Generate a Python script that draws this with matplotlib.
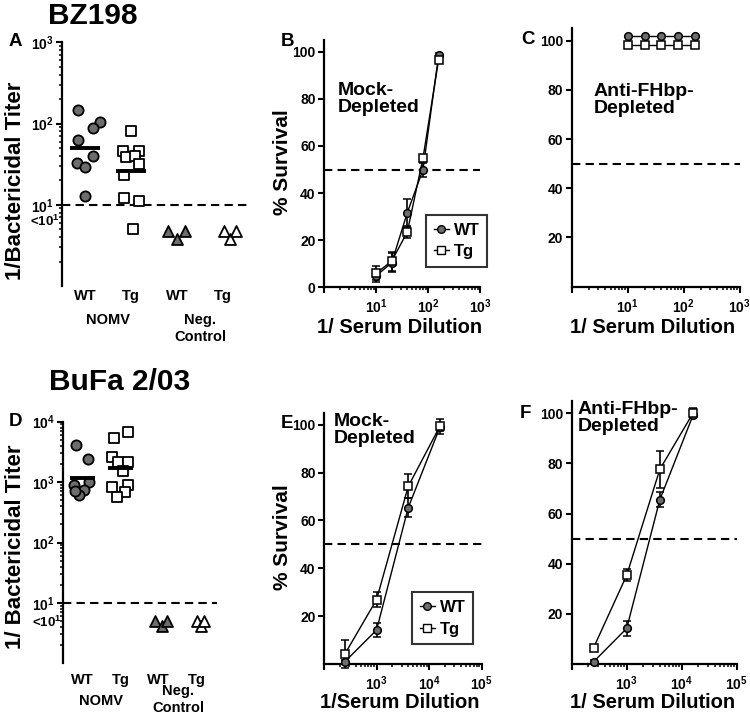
"""Bactericidal titers and survival curves (BZ198 / BuFa 2/03)."""

import matplotlib

matplotlib.use("Agg")
import matplotlib.pyplot as plt  # drawing
import numpy as np
from matplotlib.lines import Line2D
from matplotlib.ticker import FixedLocator, LogLocator, NullFormatter

plt.rcParams["font.family"] = ["Liberation Sans", "DejaVu Sans"]
plt.rcParams["font.weight"] = "bold"
plt.rcParams["mathtext.fontset"] = "custom"
plt.rcParams["mathtext.rm"] = "Liberation Sans:bold"
plt.rcParams["mathtext.it"] = "Liberation Sans:bold"
plt.rcParams["mathtext.bf"] = "Liberation Sans:bold"

# ---- data: BZ198 titers (panel A) ----
bz_nomv_wt = [147, 105, 89, 63, 40, 33, 29, 13]
bz_nomv_tg = [81, 46, 46, 39, 40, 32, 23, 12, 11, 5]
bz_neg_wt = [4.8, 3.8, 4.8]
bz_neg_tg = [4.8, 3.8, 4.8]

# ---- data: BuFa 2/03 titers (panel D) ----
bufa_nomv_wt = [4140, 2400, 900, 1020, 750, 600, 700]
bufa_nomv_tg = [6700, 5460, 2630, 2180, 2180, 1540, 845, 900, 675, 565]
bufa_neg_wt = [5.0, 4.1, 5.0]
bufa_neg_tg = [5.0, 4.1, 5.0]

group_labels = ["WT", "Tg", "WT", "Tg"]

# ---- data: BZ198 survival (panels B, C) ----
bz_dilution = [10, 20, 40, 80, 160]
bz_mock_wt = [4.8, 10.4, 31.7, 49.9, 98.5]
bz_mock_wt_err = [2.5, 4.0, 6.0, 3.0, 1.0]
bz_mock_tg = [5.9, 11.1, 23.5, 54.8, 96.6]
bz_mock_tg_err = [3.0, 4.0, 2.5, 1.5, 1.5]
bz_depl_wt = [101.7, 101.7, 101.7, 101.7, 101.7]
bz_depl_tg = [98.2, 98.2, 98.2, 98.2, 98.2]

# ---- data: BuFa 2/03 survival (panels E, F) ----
bufa_dilution = [250, 1000, 4000, 16000]
bufa_mock_wt = [1.0, 14.2, 65.3, 98.9]
bufa_mock_wt_err = [0.8, 3.0, 4.0, 1.5]
bufa_mock_tg = [4.2, 26.9, 74.2, 99.3]
bufa_mock_tg_err = [6.0, 3.0, 5.0, 3.0]
bufa_depl_wt = [0.9, 14.2, 65.5, 99.1]
bufa_depl_wt_err = [0.5, 3.0, 3.0, 1.0]
bufa_depl_tg = [6.5, 35.4, 77.6, 100.0]
bufa_depl_tg_err = [0.5, 2.3, 7.3, 2.0]

# ---- layout (scatter jitter, pixel boxes) ----
FIG_W, FIG_H = 750, 723
GRAY = "#6d6d6d"
bz_jit = [
    [-0.17, 0.32, 0.16, -0.17, 0.17, -0.19, 0.0, 0.0],
    [0.0, -0.17, 0.16, -0.11, 0.08, 0.16, -0.16, -0.16, 0.16, 0.04],
    [-0.19, 0.0, 0.18],
    [0.03, 0.16, 0.28],
]
bufa_jit = [
    [-0.17, 0.16, -0.21, 0.18, 0.05, -0.08, -0.2],
    [0.19, -0.16, -0.21, -0.07, 0.19, 0.07, -0.21, 0.19, 0.12, -0.1],
    [-0.1, 0.08, 0.21],
    [0.0, 0.1, 0.19],
]


def px_axes(fig, left, top, right, bottom):
    """ピクセル座標で軸を作成."""
    return fig.add_axes(
        [left / FIG_W, 1 - bottom / FIG_H, (right - left) / FIG_W, (bottom - top) / FIG_H]
    )


def fig_text(fig, x, y, s, **kw):
    """ピクセル座標で文字を配置."""
    kw.setdefault("ha", "center")
    kw.setdefault("va", "center")
    fig.text(x / FIG_W, 1 - y / FIG_H, s, **kw)


def style_axes(ax):
    ax.spines["top"].set_visible(False)
    ax.spines["right"].set_visible(False)
    for s in ("left", "bottom"):
        ax.spines[s].set_linewidth(1.6)
    ax.tick_params(which="major", direction="out", length=4.5, width=1.5, labelsize=10, pad=1.5)
    ax.tick_params(which="minor", direction="out", length=2.5, width=1.1)
    ax.tick_params(axis="x", which="major", pad=3)


def plot_titer(ax, groups, jitter, ylim, yticks, yticklabels, below_y, offsets):
    """列散布図（幾何平均線つき）."""
    style_axes(ax)
    ax.spines["bottom"].set_visible(False)
    markers = [("o", GRAY), ("s", "white"), ("^", GRAY), ("^", "white")]
    for i, (vals, jit) in enumerate(zip(groups, jitter)):
        x0 = i + 1
        m, fc = markers[i]
        size = 62 if m == "^" else 54
        ax.scatter(
            x0 + np.array(jit), vals, marker=m, s=size, facecolor=fc,
            edgecolor="black", linewidth=1.3, zorder=3, clip_on=False,
        )
        if i < 2:
            gmean = np.exp(np.mean(np.log(vals)))
            ax.hlines(gmean, x0 - 0.33, x0 + 0.33, color="black", lw=2.8, zorder=4)
    ax.axhline(10, color="black", lw=1.5, ls=(0, (4, 2.5)), zorder=2)
    ax.set_yscale("log")
    ax.set_ylim(*ylim)
    ax.set_xlim(0.49, 4.55)
    ax.yaxis.set_major_locator(FixedLocator(yticks))
    ax.set_yticklabels(yticklabels)
    ax.yaxis.set_minor_locator(LogLocator(base=10, subs=np.arange(2, 10), numticks=20))
    ax.yaxis.set_minor_formatter(NullFormatter())
    ax.set_xticks([])
    # label for values below detection, without a tick
    ax.annotate(r"<$10^{1}$", xy=(0, below_y), xycoords=("axes fraction", "data"),
                xytext=(-2, 0), textcoords="offset pixels",
                ha="right", va="center", fontsize=9.5)
    tick_off, group_off, neg_off, ctrl_off = offsets
    for i, lab in enumerate(group_labels):
        ax.annotate(lab, xy=(i + 1, 0), xycoords=("data", "axes fraction"),
                    xytext=(0, -tick_off), textcoords="offset pixels",
                    ha="center", va="center", fontsize=10.5)
    ax.annotate("NOMV", xy=(1.5, 0), xycoords=("data", "axes fraction"),
                xytext=(0, -group_off), textcoords="offset pixels",
                ha="center", va="center", fontsize=10.5)
    ax.annotate("Neg.", xy=(3.5, 0), xycoords=("data", "axes fraction"),
                xytext=(0, -neg_off), textcoords="offset pixels",
                ha="center", va="center", fontsize=10.5)
    ax.annotate("Control", xy=(3.5, 0), xycoords=("data", "axes fraction"),
                xytext=(0, -ctrl_off), textcoords="offset pixels",
                ha="center", va="center", fontsize=10.5)


def plot_survival(ax, x, series, xlim, xticklabels, yticks, yticklabels):
    """生存率曲線."""
    style_axes(ax)
    for y, err, m, fc in series:
        ax.errorbar(
            x, y, yerr=err, marker=m, ms=5.5, mfc=fc, mec="black", mew=1.1,
            color="black", lw=1.0, capsize=3, elinewidth=1.2, capthick=1.2,
            zorder=3, clip_on=False,
        )
    ax.axhline(50, color="black", lw=1.5, ls=(0, (4, 2.5)), zorder=2)
    ax.set_xscale("log")
    ax.set_xlim(*xlim)
    ax.set_ylim(0, 105)
    lo, hi = np.log10(xlim)
    ax.xaxis.set_major_locator(FixedLocator(10.0 ** np.arange(lo, hi + 1)))
    ax.set_xticklabels(xticklabels)
    ax.xaxis.set_minor_locator(LogLocator(base=10, subs=np.arange(2, 10), numticks=20))
    ax.xaxis.set_minor_formatter(NullFormatter())
    ax.set_yticks(yticks)
    ax.set_yticklabels(yticklabels)


def add_legend(ax, anchor):
    handles = [
        Line2D([], [], marker="o", color="black", lw=1.0, mfc=GRAY, mec="black", ms=5.5),
        Line2D([], [], marker="s", color="black", lw=1.0, mfc="white", mec="black", ms=5.5),
    ]
    leg = ax.legend(
        handles, ["WT", "Tg"], loc="upper left", bbox_to_anchor=anchor,
        fontsize=12, frameon=True, fancybox=False, handlelength=0.9,
        handletextpad=0.3, borderpad=0.45, labelspacing=0.4, borderaxespad=0,
    )
    leg.get_frame().set_edgecolor("black")
    leg.get_frame().set_linewidth(1.5)


def main():
    fig = plt.figure(figsize=(FIG_W / 100, FIG_H / 100), dpi=100)

    # panel A
    ax_a = px_axes(fig, 62, 42.3, 248, 286)
    plot_titer(
        ax_a, [bz_nomv_wt, bz_nomv_tg, bz_neg_wt, bz_neg_tg], bz_jit,
        (1, 1000), [10, 100, 1000],
        [r"$10^{1}$", r"$10^{2}$", r"$10^{3}$"], 6.2,
        (10, 34, 34, 51),
    )
    # panel D
    ax_d = px_axes(fig, 63.3, 421.7, 217, 663.3)
    plot_titer(
        ax_d, [bufa_nomv_wt, bufa_nomv_tg, bufa_neg_wt, bufa_neg_tg], bufa_jit,
        (1, 10000), [10, 100, 1000, 10000],
        [r"$10^{1}$", r"$10^{2}$", r"$10^{3}$", r"$10^{4}$"], 4.7,
        (17, 38, 28, 45),
    )
    ax_d.set_xlim(0.507, 4.52)

    pct = ["20", "40", "60", "80", "100"]
    # panel B
    ax_b = px_axes(fig, 324, 40, 480, 287.3)
    plot_survival(
        ax_b, bz_dilution,
        [(bz_mock_wt, bz_mock_wt_err, "o", GRAY), (bz_mock_tg, bz_mock_tg_err, "s", "white")],
        (1, 1000), ["", r"$10^{1}$", r"$10^{2}$", r"$10^{3}$"],
        [0, 20, 40, 60, 80, 100], ["0"] + pct,
    )
    add_legend(ax_b, (0.654, 0.292))
    ax_b.text(0.085, 0.83, "Mock-\nDepleted", transform=ax_b.transAxes,
              fontsize=14, va="top", ha="left", linespacing=1.0)

    # panel C
    ax_c = px_axes(fig, 571.7, 28.3, 739.7, 286.7)
    plot_survival(
        ax_c, bz_dilution,
        [(bz_depl_wt, None, "o", GRAY), (bz_depl_tg, None, "s", "white")],
        (1, 1000), ["", r"$10^{1}$", r"$10^{2}$", r"$10^{3}$"],
        [20, 40, 60, 80, 100], pct,
    )
    ax_c.text(0.129, 0.787, "Anti-FHbp-\nDepleted", transform=ax_c.transAxes,
              fontsize=14, va="top", ha="left", linespacing=1.0)

    # panel E
    ax_e = px_axes(fig, 324, 412.7, 481.7, 664)
    plot_survival(
        ax_e, bufa_dilution,
        [(bufa_mock_wt, bufa_mock_wt_err, "o", GRAY), (bufa_mock_tg, bufa_mock_tg_err, "s", "white")],
        (100, 1e5), ["", r"$10^{3}$", r"$10^{4}$", r"$10^{5}$"],
        [20, 40, 60, 80, 100], pct,
    )
    add_legend(ax_e, (0.56, 0.285))
    ax_e.text(0.063, 1.0, "Mock-\nDepleted", transform=ax_e.transAxes,
              fontsize=14, va="top", ha="left", linespacing=1.0)

    # panel F
    ax_f = px_axes(fig, 571.7, 400.7, 736.7, 664)
    plot_survival(
        ax_f, bufa_dilution,
        [(bufa_depl_wt, bufa_depl_wt_err, "o", GRAY), (bufa_depl_tg, bufa_depl_tg_err, "s", "white")],
        (100, 1e5), ["", r"$10^{3}$", r"$10^{4}$", r"$10^{5}$"],
        [20, 40, 60, 80, 100], pct,
    )
    ax_f.text(0.034, 1.0, "Anti-FHbp-\nDepleted", transform=ax_f.transAxes,
              fontsize=14, va="top", ha="left", linespacing=1.0)

    # titles, panel letters, axis labels
    fig_text(fig, 93, 16, "BZ198", fontsize=21.5)
    fig_text(fig, 120, 382, "BuFa 2/03", fontsize=21.5)
    for lab, x, y in [("A", 15, 42), ("B", 287, 42), ("C", 528, 40),
                      ("D", 15, 422), ("E", 287, 423), ("F", 525, 413)]:
        fig_text(fig, x, y, lab, fontsize=13.5)
    fig_text(fig, 16, 181, "1/Bactericidal Titer", fontsize=16, rotation=90)
    fig_text(fig, 16, 547, "1/ Bactericidal Titer", fontsize=16, rotation=90)
    fig_text(fig, 283, 162, "% Survival", fontsize=15, rotation=90)
    fig_text(fig, 283, 537, "% Survival", fontsize=15, rotation=90)
    fig_text(fig, 400, 328, "1/ Serum Dilution", fontsize=14.5)
    fig_text(fig, 653, 328, "1/ Serum Dilution", fontsize=14.5)
    fig_text(fig, 400, 702, "1/Serum Dilution", fontsize=14.5)
    fig_text(fig, 653, 702, "1/ Serum Dilution", fontsize=14.5)

    fig.savefig("out.png", dpi=100)


if __name__ == "__main__":
    main()
